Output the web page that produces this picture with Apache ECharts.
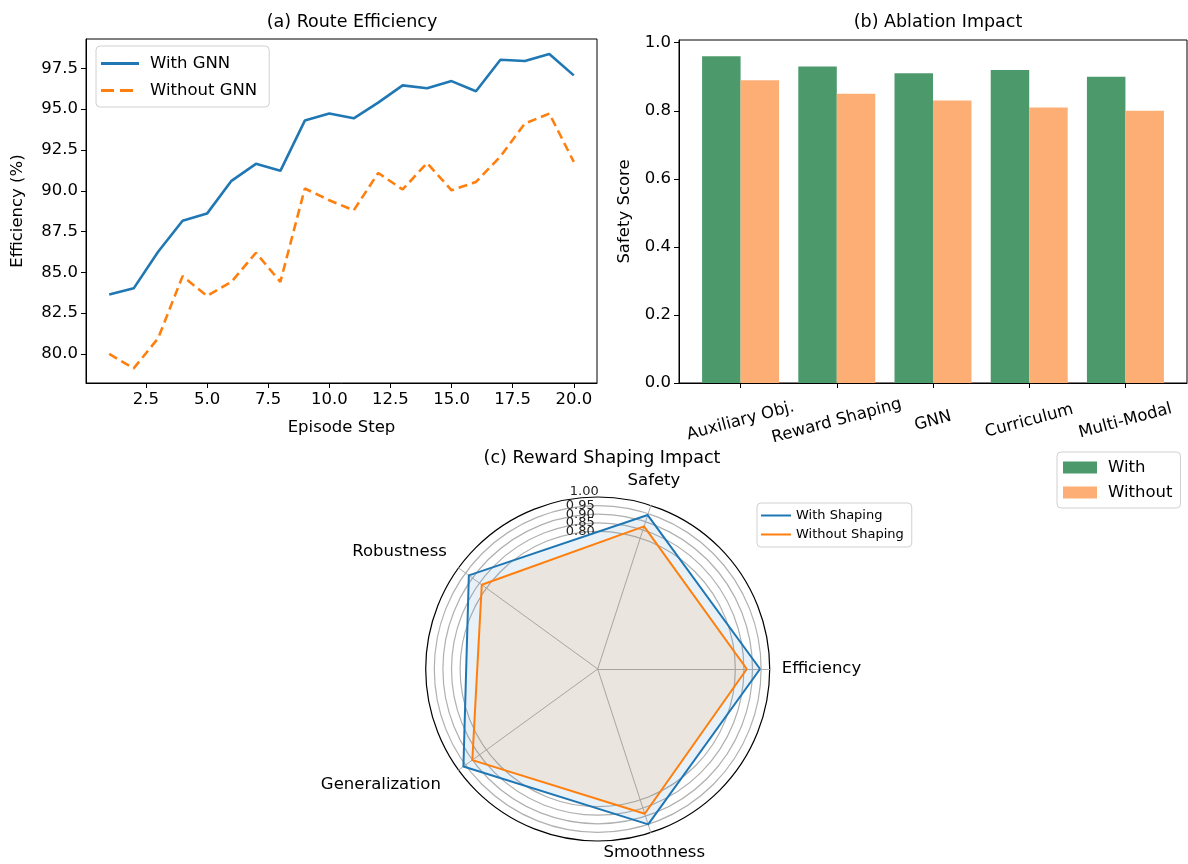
<!DOCTYPE html>
<html>
<head>
<meta charset="utf-8">
<script src="https://cdn.jsdelivr.net/npm/echarts@6/dist/echarts.min.js"></script>
<style>
  html, body { margin: 0; padding: 0; background: #fff; }
  #main { width: 1188px; height: 864px; }
</style>
</head>
<body>
<div id="main"></div>
<script>
// (a) route efficiency
var steps = [1,2,3,4,5,6,7,8,9,10,11,12,13,14,15,16,17,18,19,20];
var withGnn = [83.65,84.02,86.26,88.16,88.6,90.61,91.65,91.22,94.3,94.73,94.44,95.4,96.46,96.28,96.72,96.1,98.03,97.95,98.38,97.07];
var withoutGnn = [80.0,79.12,80.96,84.77,83.55,84.42,86.2,84.42,90.14,89.42,88.8,91.09,90.08,91.7,90.03,90.54,92.1,94.12,94.73,91.77];
var effTicks = [80,82.5,85,87.5,90,92.5,95,97.5];
var stepTicks = [2.5,5,7.5,10,12.5,15,17.5,20];

// (b) ablation impact
var ablationCats = ['Auxiliary Obj.','Reward Shaping','GNN','Curriculum','Multi-Modal'];
var safetyWith = [0.96,0.93,0.91,0.92,0.90];
var safetyWithout = [0.89,0.85,0.83,0.81,0.80];
var safetyTicks = [0,0.2,0.4,0.6,0.8,1.0];

// (c) reward shaping radar
var radarAxes = ['Efficiency','Safety','Robustness','Generalization','Smoothness'];
var shapingWith = [0.944,0.941,0.926,0.965,0.95];
var shapingWithout = [0.867,0.872,0.833,0.901,0.885];

var FONT = 'DejaVu Sans';
var BLUE = '#1f77b4', ORANGE = '#ff7f0e';
var GREEN_BAR = '#4c9a6b', ORANGE_BAR = '#fdae74';
var FS = 16.5;
var RC = [597.7, 669], RR = 172;

var chart = echarts.init(document.getElementById('main'));

function pairs(xs, ys) {
  var out = [];
  for (var i = 0; i < ys.length; i++) out.push([xs[i], ys[i]]);
  return out;
}
var barWithData = [], barWithoutData = [];
for (var i = 0; i < ablationCats.length; i++) {
  barWithData.push([i - 0.2, safetyWith[i]]);
  barWithoutData.push([i + 0.2, safetyWithout[i]]);
}

// rings only from 0.80 up, outer one is the black spine
var ringColors = [];
for (var k = 0; k <= 20; k++) {
  if (k < 16) ringColors.push('rgba(0,0,0,0)');
  else if (k < 20) ringColors.push('#b0b0b0');
  else ringColors.push('#000');
}

// nudge radar labels so they sit like the matplotlib ones
var nameNudge = {
  Efficiency: [0, 0, 0, 0],
  Safety: [0, 0, 26, -27],
  Robustness: [0, 2, 18, 0],
  Generalization: [16, 8, 0, 0],
  Smoothness: [18, 0, 0, -51]
};
var nameRich = {};
radarAxes.forEach(function (n, idx) {
  nameRich['n' + idx] = { padding: nameNudge[n], fontFamily: FONT, fontSize: FS, color: '#000' };
});

var axisText = { color: '#000', fontFamily: FONT, fontSize: FS };
var titleText = { fontFamily: FONT, fontSize: 17.5, fontWeight: 'normal', color: '#000' };
var dashIcon = 'path://M0,0h13v3h-13z M19,0h13v3h-13z M38,0h0.01v3h-0.01z';

// ring labels: two overlaid radius axes so the crowded 0.95 / 1.00 both survive
function ringAxis(idx, lo, hi, showMax) {
  return {
    polarIndex: idx, min: 0, max: 1, interval: 0.05,
    axisLine: { show: false }, axisTick: { show: false }, splitLine: { show: false },
    axisLabel: {
      interval: 0, showMaxLabel: showMax, showMinLabel: false,
      formatter: function (v) { return (v >= lo && v <= hi) ? v.toFixed(2) : ''; },
      color: '#222', fontFamily: FONT, fontSize: 13, margin: 3
    }
  };
}

chart.setOption({
  backgroundColor: '#fff',
  animation: false,
  textStyle: { fontFamily: FONT },
  title: [
    { text: '(a) Route Efficiency', left: 347, top: 8, textAlign: 'center', textStyle: titleText },
    { text: '(b) Ablation Impact', left: 933, top: 8, textAlign: 'center', textStyle: titleText },
    { text: '(c) Reward Shaping Impact', left: 597, top: 444, textAlign: 'center', textStyle: titleText }
  ],
  legend: [
    {
      data: [{ name: 'With GNN', icon: 'rect' }, { name: 'Without GNN', icon: dashIcon }],
      left: 96, top: 46, orient: 'vertical', itemGap: 10,
      itemWidth: 38, itemHeight: 3,
      backgroundColor: 'rgba(255,255,255,0.8)', borderColor: '#d0d0d0', borderWidth: 1,
      borderRadius: 4, padding: [9, 12, 8, 5],
      textStyle: { fontFamily: FONT, fontSize: FS, color: '#000', padding: [0, 0, 0, 6] }
    },
    {
      data: ['With', 'Without'],
      left: 1057, top: 452, orient: 'vertical', itemGap: 8,
      icon: 'rect', itemWidth: 34, itemHeight: 12,
      borderColor: '#d0d0d0', borderWidth: 1, borderRadius: 4, padding: [7, 8, 7, 6],
      textStyle: { fontFamily: FONT, fontSize: FS, color: '#000', padding: [0, 0, 0, 6] }
    },
    {
      data: ['With Shaping', 'Without Shaping'],
      left: 757, top: 503, orient: 'vertical', itemGap: 6,
      icon: 'rect', itemWidth: 30, itemHeight: 2,
      borderColor: '#d0d0d0', borderWidth: 1, borderRadius: 4, padding: [6, 8, 6, 4],
      textStyle: { fontFamily: FONT, fontSize: 13, color: '#000' }
    }
  ],
  grid: [
    { left: 86, top: 39, width: 511, height: 344, show: true, borderColor: '#000', borderWidth: 1, containLabel: false },
    { left: 679, top: 40, width: 508, height: 343, show: true, borderColor: '#000', borderWidth: 1, containLabel: false }
  ],
  xAxis: [
    {
      type: 'value', gridIndex: 0, min: 0.05, max: 20.95,
      name: 'Episode Step', nameLocation: 'middle', nameGap: 36, nameTextStyle: axisText,
      axisLine: { show: true, onZero: false, lineStyle: { color: '#000' } },
      axisTick: { show: true, length: 5, customValues: stepTicks, lineStyle: { color: '#000' } },
      axisLabel: { customValues: stepTicks, formatter: function (v) { return v.toFixed(1); }, color: '#000', fontFamily: FONT, fontSize: FS, margin: 8 },
      splitLine: { show: false }
    },
    {
      type: 'value', gridIndex: 1, min: -0.64, max: 4.64,
      axisLine: { show: true, onZero: false, lineStyle: { color: '#000' } },
      axisTick: { show: true, length: 5, customValues: [0,1,2,3,4], lineStyle: { color: '#000' } },
      axisLabel: {
        customValues: [0,1,2,3,4],
        formatter: function (v) { return ablationCats[Math.round(v)]; },
        rotate: 15, align: 'center', verticalAlign: 'middle', margin: 38,
        color: '#000', fontFamily: FONT, fontSize: FS
      },
      splitLine: { show: false }
    }
  ],
  yAxis: [
    {
      type: 'value', gridIndex: 0, min: 78.22, max: 99.3,
      name: 'Efficiency (%)', nameLocation: 'middle', nameGap: 60, nameTextStyle: axisText,
      axisLine: { show: true, onZero: false, lineStyle: { color: '#000' } },
      axisTick: { show: true, length: 5, customValues: effTicks, lineStyle: { color: '#000' } },
      axisLabel: { customValues: effTicks, formatter: function (v) { return v.toFixed(1); }, color: '#000', fontFamily: FONT, fontSize: FS, margin: 8 },
      splitLine: { show: false }
    },
    {
      type: 'value', gridIndex: 1, min: 0, max: 1.008,
      name: 'Safety Score', nameLocation: 'middle', nameGap: 46, nameTextStyle: axisText,
      axisLine: { show: true, onZero: false, lineStyle: { color: '#000' } },
      axisTick: { show: true, length: 5, customValues: safetyTicks, lineStyle: { color: '#000' } },
      axisLabel: { customValues: safetyTicks, formatter: function (v) { return v.toFixed(1); }, color: '#000', fontFamily: FONT, fontSize: FS, margin: 8 },
      splitLine: { show: false }
    }
  ],
  radar: {
    center: RC,
    radius: RR,
    startAngle: 0,
    shape: 'circle',
    splitNumber: 20,
    nameGap: 12,
    indicator: radarAxes.map(function (n) { return { name: n, min: 0, max: 1 }; }),
    axisName: {
      color: '#000', fontFamily: FONT, fontSize: FS,
      formatter: function (name) { return '{n' + radarAxes.indexOf(name) + '|' + name + '}'; },
      rich: nameRich
    },
    axisLine: { show: true, lineStyle: { color: '#b0b0b0', width: 1 } },
    axisTick: { show: false },
    axisLabel: { show: false },
    splitLine: { show: true, lineStyle: { color: ringColors, width: 1.2 } },
    splitArea: { show: false }
  },
  polar: [
    { center: RC, radius: RR },
    { center: [RC[0] + 4, RC[1] - 5], radius: RR }
  ],
  angleAxis: [
    { polarIndex: 0, show: false, startAngle: 90, min: 0, max: 360 },
    { polarIndex: 1, show: false, startAngle: 90, min: 0, max: 360 }
  ],
  radiusAxis: [
    ringAxis(0, 0.799, 0.951, false),
    ringAxis(1, 0.999, 1.001, true)
  ],
  series: [
    {
      name: 'With GNN', type: 'line', xAxisIndex: 0, yAxisIndex: 0,
      data: pairs(steps, withGnn), showSymbol: false, symbol: 'none',
      lineStyle: { color: BLUE, width: 2.6 }, itemStyle: { color: BLUE }
    },
    {
      name: 'Without GNN', type: 'line', xAxisIndex: 0, yAxisIndex: 0,
      data: pairs(steps, withoutGnn), showSymbol: false, symbol: 'none',
      lineStyle: { color: ORANGE, width: 2.6, type: [9, 5] }, itemStyle: { color: ORANGE }
    },
    {
      name: 'With', type: 'bar', xAxisIndex: 1, yAxisIndex: 1,
      data: barWithData, barWidth: 38.5, barGap: '-100%',
      itemStyle: { color: GREEN_BAR }
    },
    {
      name: 'Without', type: 'bar', xAxisIndex: 1, yAxisIndex: 1,
      data: barWithoutData, barWidth: 38.5, barGap: '-100%',
      itemStyle: { color: ORANGE_BAR }
    },
    {
      type: 'radar',
      symbol: 'none',
      data: [
        { name: 'With Shaping', value: shapingWith,
          lineStyle: { color: BLUE, width: 2 }, itemStyle: { color: BLUE },
          areaStyle: { color: BLUE, opacity: 0.1 } },
        { name: 'Without Shaping', value: shapingWithout,
          lineStyle: { color: ORANGE, width: 2 }, itemStyle: { color: ORANGE },
          areaStyle: { color: ORANGE, opacity: 0.1 } }
      ]
    }
  ]
});
</script>
</body>
</html>
